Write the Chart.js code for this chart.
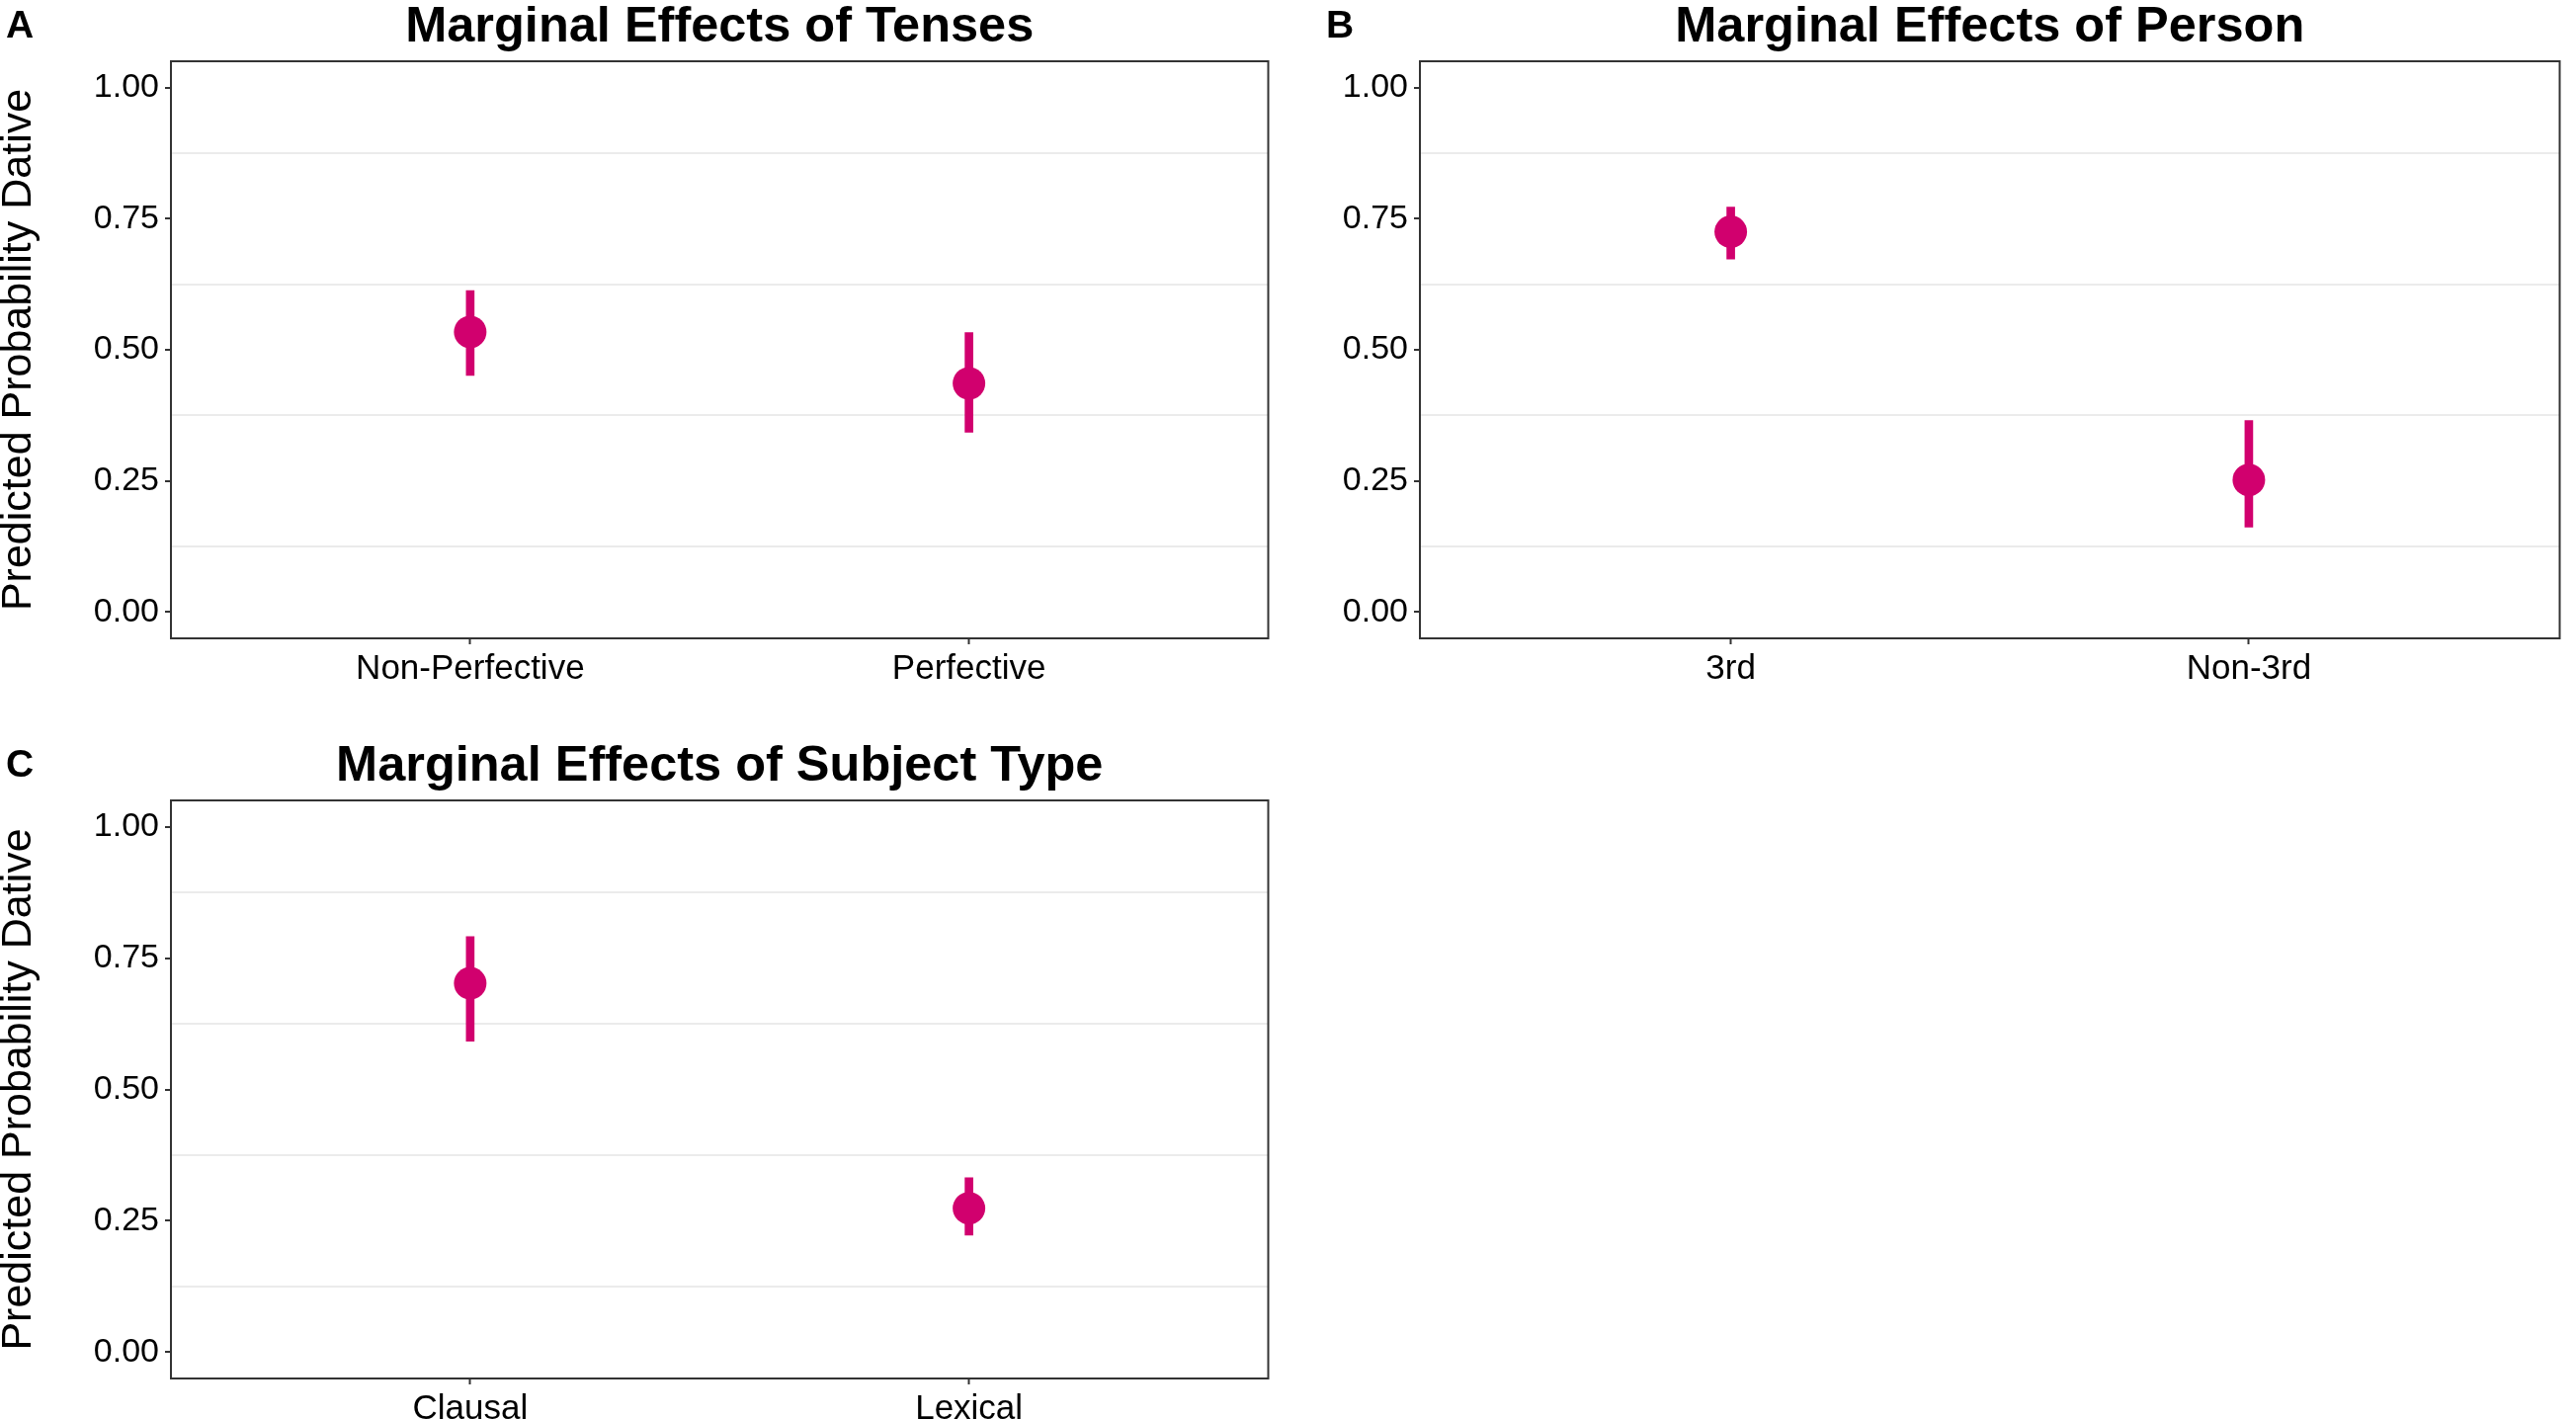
<!DOCTYPE html>
<html>
<head>
<meta charset="utf-8">
<title>Marginal Effects</title>
<script src="https://cdn.jsdelivr.net/npm/chart.js@4.4.0/dist/chart.umd.min.js"></script>
<style>
    html, body { margin: 0; padding: 0; background: #fff; }
    #wrap { position: relative; width: 2607px; height: 1436px; overflow: hidden; }
    .panel { position: absolute; }
</style>
</head>
<body>
<div id="wrap">
    <div class="panel" style="left:0;top:0;width:1300px;height:720px"><canvas id="chartA"></canvas></div>
    <div class="panel" style="left:1300px;top:0;width:1307px;height:720px"><canvas id="chartB"></canvas></div>
    <div class="panel" style="left:0;top:748px;width:1300px;height:688px"><canvas id="chartC"></canvas></div>
</div>
<script>
(function () {
    'use strict';

    /* Data
     * -------------------------------------------------- */
    const tenseCats = ['Non-Perfective', 'Perfective'];
    const tenseFit  = [0.534, 0.436];
    const tenseLow  = [0.451, 0.343];
    const tenseHigh = [0.613, 0.533];

    const personCats = ['3rd', 'Non-3rd'];
    const personFit  = [0.725, 0.252];
    const personLow  = [0.673, 0.162];
    const personHigh = [0.772, 0.365];

    const subjCats = ['Clausal', 'Lexical'];
    const subjFit  = [0.702, 0.274];
    const subjLow  = [0.592, 0.223];
    const subjHigh = [0.791, 0.332];

    const yTickValues = [0, 0.25, 0.5, 0.75, 1];
    const yGridValues = [0.125, 0.375, 0.625, 0.875];

    const MAGENTA = '#D1006E';
    const INK = '#333333';
    const FONT = '"Liberation Sans", Arial, Helvetica, sans-serif';

    /* Panel border, title and letter
     * -------------------------------------------------- */
    const panelDeco = {
        id: 'panelDeco',
        afterDraw: function (chart, args, opts) {
            const ctx = chart.ctx;
            const a = chart.chartArea;
            ctx.save();
            ctx.strokeStyle = INK;
            ctx.lineWidth = 2;
            ctx.strokeRect(a.left, a.top, a.right - a.left, a.bottom - a.top);

            ctx.fillStyle = '#000';
            ctx.textBaseline = 'alphabetic';
            ctx.textAlign = 'center';
            ctx.font = 'bold 50.5px ' + FONT;
            ctx.fillText(opts.title, (a.left + a.right) / 2, a.top - 20);

            ctx.textAlign = 'left';
            ctx.font = 'bold 39px ' + FONT;
            ctx.fillText(opts.letter, opts.letterX, opts.letterY);
            ctx.restore();
        }
    };

    const allYTicks = yTickValues.concat(yGridValues).sort(function (a, b) { return a - b; });
    const isMajor = function (v) { return yTickValues.indexOf(v) !== -1; };

    function makePanel(id, cats, fit, low, high, cfg) {
        const bars = cats.map(function (c, i) { return { x: i + 1, y: [low[i], high[i]] }; });
        const pts = cats.map(function (c, i) { return { x: i + 1, y: fit[i] }; });

        return new Chart(document.getElementById(id), {
            type: 'scatter',
            data: {
                datasets: [
                    {
                        type: 'bar',
                        data: bars,
                        backgroundColor: MAGENTA,
                        borderWidth: 0,
                        barThickness: 8,
                        order: 2
                    },
                    {
                        type: 'scatter',
                        data: pts,
                        backgroundColor: MAGENTA,
                        borderWidth: 0,
                        pointRadius: 16.5,
                        order: 1
                    }
                ]
            },
            options: {
                responsive: true,
                maintainAspectRatio: false,
                devicePixelRatio: 1,
                animation: false,
                events: [],
                layout: { padding: { left: 0, top: cfg.top, right: cfg.right, bottom: 0 } },
                plugins: {
                    legend: { display: false },
                    tooltip: { enabled: false },
                    panelDeco: { title: cfg.title, letter: cfg.letter, letterX: cfg.letterX, letterY: cfg.letterY }
                },
                scales: {
                    x: {
                        type: 'linear',
                        min: 0.4,
                        max: 2.6,
                        offset: false,
                        afterBuildTicks: function (s) {
                            s.ticks = cats.map(function (c, i) { return { value: i + 1 }; });
                        },
                        afterFit: function (s) { s.height = cfg.xHeight; },
                        ticks: {
                            autoSkip: false,
                            maxRotation: 0,
                            padding: 4,
                            color: '#000',
                            font: { family: FONT, size: 35 },
                            callback: function (v, i) { return cats[i]; }
                        },
                        grid: {
                            offset: false,
                            drawOnChartArea: false,
                            drawTicks: true,
                            tickLength: 6,
                            tickWidth: 2,
                            tickColor: INK
                        },
                        border: { display: false }
                    },
                    y: {
                        type: 'linear',
                        min: -0.05,
                        max: 1.05,
                        afterBuildTicks: function (s) {
                            s.ticks = allYTicks.map(function (v) { return { value: v }; });
                        },
                        afterFit: function (s) { s.width = cfg.yWidth; },
                        ticks: {
                            autoSkip: false,
                            padding: 6,
                            color: '#000',
                            font: { family: FONT, size: 34 },
                            callback: function (v) { return isMajor(v) ? v.toFixed(2) : ''; }
                        },
                        grid: {
                            lineWidth: 2,
                            color: function (c) { return c.tick && isMajor(c.tick.value) ? 'rgba(0,0,0,0)' : '#EBEBEB'; },
                            tickColor: function (c) { return c.tick && isMajor(c.tick.value) ? INK : 'rgba(0,0,0,0)'; },
                            tickLength: 6,
                            tickWidth: 2
                        },
                        border: { display: false },
                        title: {
                            display: cfg.yTitle,
                            text: 'Predicted Probability Dative',
                            color: '#000',
                            padding: 0,
                            font: { family: FONT, size: 43, lineHeight: 0.9 }
                        }
                    }
                }
            },
            plugins: [panelDeco]
        });
    }

    makePanel('chartA', tenseCats, tenseFit, tenseLow, tenseHigh, {
        title: 'Marginal Effects of Tenses', letter: 'A', letterX: 6, letterY: 38,
        top: 62, right: 8, xHeight: 74, yWidth: 173, yTitle: true
    });

    makePanel('chartB', personCats, personFit, personLow, personHigh, {
        title: 'Marginal Effects of Person', letter: 'B', letterX: 42, letterY: 38,
        top: 62, right: 5, xHeight: 74, yWidth: 137, yTitle: false
    });

    makePanel('chartC', subjCats, subjFit, subjLow, subjHigh, {
        title: 'Marginal Effects of Subject Type', letter: 'C', letterX: 6, letterY: 38,
        top: 62, right: 8, xHeight: 41, yWidth: 173, yTitle: true
    });
})();
</script>
</body>
</html>
